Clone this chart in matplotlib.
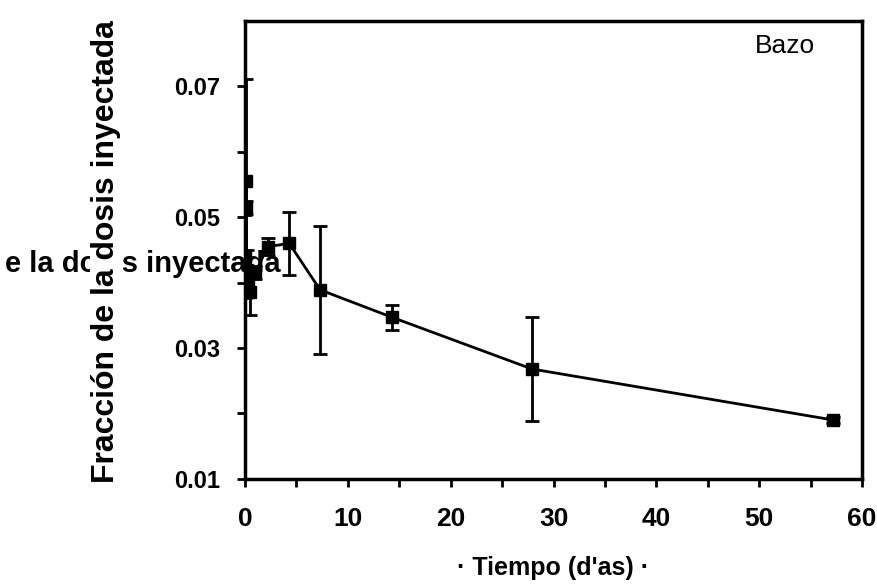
import matplotlib
matplotlib.use("Agg")
import matplotlib.pyplot as plt

# datos
dias = [0.02, 0.05, 0.10, 0.17, 0.25, 0.5, 1.0, 2.2, 4.3, 7.3, 14.3, 27.9, 57.2]
fraccion = [0.0440, 0.0515, 0.0556, 0.0420, 0.0400, 0.0385, 0.0415, 0.0455, 0.0460, 0.0389, 0.0347, 0.0268, 0.0190]
error = [0.0063, 0.0010, 0.0155, 0.0030, 0.0020, 0.0035, 0.0010, 0.0013, 0.0048, 0.0098, 0.0019, 0.0080, 0.0005]

xticks = [0, 10, 20, 30, 40, 50, 60]
yticks = [0.01, 0.03, 0.05, 0.07]

arial = ['Liberation Sans', 'DejaVu Sans']

fig = plt.figure(figsize=(8.77, 5.84), dpi=100)
ax = fig.add_axes([0.2794, 0.180, 0.7036, 0.784])

ax.errorbar(dias, fraccion, yerr=error, color='black', marker='s', markersize=8.5,
            linewidth=2, elinewidth=2, capsize=5, capthick=2)

ax.set_xlim(0, 60)
ax.set_ylim(0.01, 0.08)
ax.set_xticks(xticks)
ax.set_xticks([5, 15, 25, 35, 45, 55], minor=True)
ax.set_yticks(yticks)
ax.set_yticks([0.02, 0.04, 0.06], minor=True)
ax.set_yticklabels(['%.2f' % v for v in yticks], fontfamily=arial, fontweight='bold', fontsize=17)
ax.set_xticklabels([str(v) for v in xticks], fontfamily=arial, fontweight='bold', fontsize=19)
ax.tick_params(which='both', direction='out', width=2, length=6)
ax.tick_params(axis='y', pad=12)
ax.tick_params(axis='x', pad=14)
for s in ax.spines.values():
    s.set_linewidth(2.5)

ax.text(0.875, 0.945, 'Bazo', transform=ax.transAxes, ha='center', va='center',
        fontfamily=arial, fontsize=19)

ax.set_xlabel('· Tiempo (d\'as) ·', fontfamily=arial, fontweight='bold', fontsize=18, labelpad=18)

# texto horizontal superpuesto (artefacto del escaneo)
fig.text(5 / 877, 1 - 264 / 584, 'e la dosis inyectada', ha='left', va='center',
         fontfamily=arial, fontweight='bold', fontsize=21, zorder=3)
fig.text(106 / 877, 1 - 252 / 584, 'Fracción de la dosis inyectada', rotation=90,
         ha='center', va='center', fontfamily=arial, fontweight='bold', fontsize=23,
         bbox=dict(facecolor='white', edgecolor='none', pad=1), zorder=4)

fig.savefig('out.png', dpi=100)
